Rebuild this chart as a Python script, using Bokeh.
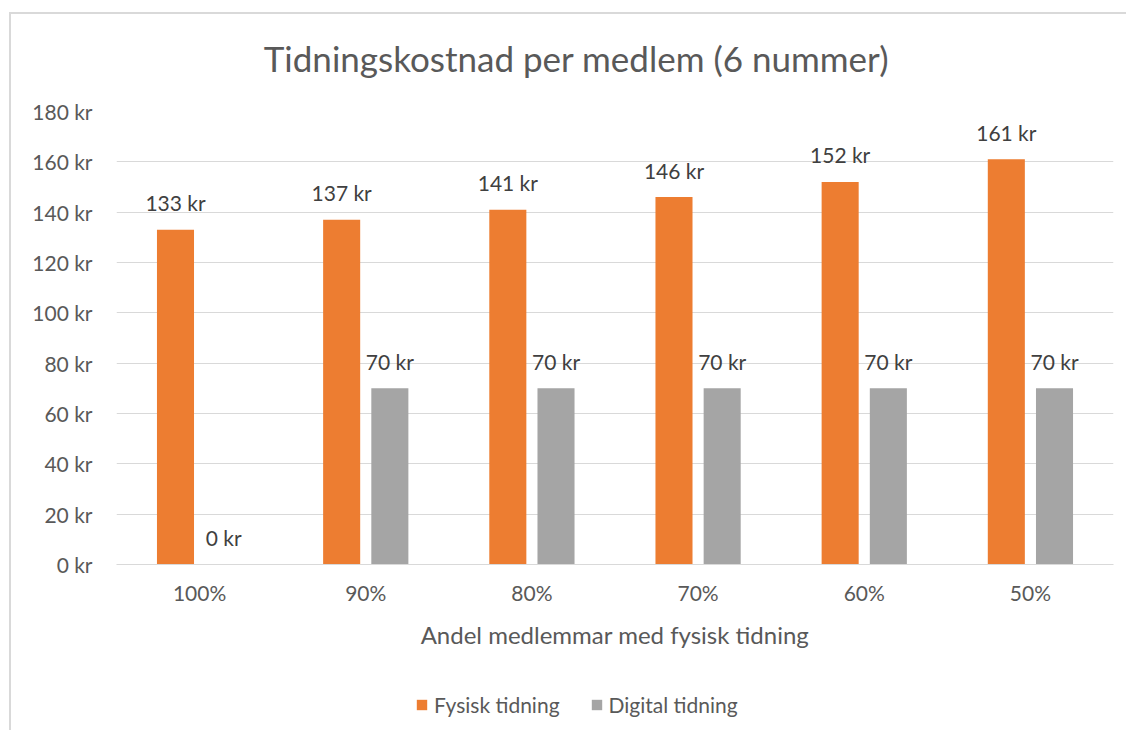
from bokeh.plotting import figure
from bokeh.models import ColumnDataSource, Range1d, FactorRange, LabelSet, Label, Legend, LegendItem, PrintfTickFormatter
from bokeh.layouts import column
from bokeh.transform import dodge
from bokeh.core.properties import value
from bokeh.embed import file_html
from bokeh.resources import INLINE

categories = ["100%", "90%", "80%", "70%", "60%", "50%"]
fysisk = [133, 137, 141, 146, 152, 161]
digital = [0, 70, 70, 70, 70, 70]
fysisk_labels = [f"{v} kr" for v in fysisk]
digital_labels = [f"{v} kr" for v in digital]
series_names = ["Fysisk tidning", "Digital tidning"]
series_colors = ["#ED7D31", "#A5A5A5"]
title_text = "Tidningskostnad per medlem (6 nummer)"
x_title = "Andel medlemmar med fysisk tidning"

FONT = "Lato"
TXT = "#595959"
W = 1115
ML, MR = 105, 13

src = ColumnDataSource(dict(cat=categories, fys=fysisk, dig=digital,
                            fl=fysisk_labels, dl=digital_labels))
xr = FactorRange(*categories, range_padding=0)

# title strip
t = figure(width=W, height=80, x_range=Range1d(0, W - ML - MR), y_range=Range1d(0, 80),
           output_backend="svg", toolbar_location=None,
           min_border_left=ML, min_border_right=MR, min_border_top=0, min_border_bottom=0)
t.axis.visible = False
t.grid.grid_line_color = None
t.outline_line_color = None
t.add_layout(Label(x=460, y=37, text=title_text, text_align="center", text_baseline="middle",
                   text_font=FONT, text_font_size="35px", text_color=TXT))

# main chart
p = figure(width=W, height=570, x_range=xr, y_range=Range1d(0, 180),
           output_backend="svg", toolbar_location=None,
           min_border_left=ML, min_border_right=MR, min_border_top=17, min_border_bottom=100)
p.outline_line_color = None

p.vbar(x=dodge("cat", -0.145, range=xr), top="fys", width=0.223, source=src,
       fill_color=series_colors[0], line_color=None)
p.vbar(x=dodge("cat", 0.145, range=xr), top="dig", width=0.223, source=src,
       fill_color=series_colors[1], line_color=None)

for col, off, ycol in (("fl", -0.145, "fys"), ("dl", 0.145, "dig")):
    p.add_layout(LabelSet(x=dodge("cat", off, range=xr), y=ycol, text=col, source=src,
                          text_align="center", text_baseline="middle", y_offset=27,
                          text_font=value(FONT), text_font_size="21px", text_color="#404040"))

p.yaxis.ticker = list(range(0, 181, 20))
p.yaxis.formatter = PrintfTickFormatter(format="%d kr")
p.yaxis.axis_line_color = None
p.yaxis.major_tick_line_color = None
p.yaxis.minor_tick_line_color = None
p.yaxis.major_label_standoff = 18
p.yaxis.major_label_text_font = FONT
p.yaxis.major_label_text_font_size = "21px"
p.yaxis.major_label_text_color = TXT

p.xaxis.axis_line_color = "#d9d9d9"
p.xaxis.major_tick_line_color = None
p.xaxis.minor_tick_line_color = None
p.xaxis.major_label_standoff = 9
p.xaxis.major_label_text_font = FONT
p.xaxis.major_label_text_font_size = "21px"
p.xaxis.major_label_text_color = TXT
p.xaxis.axis_label = x_title
p.xaxis.axis_label_text_font = FONT
p.xaxis.axis_label_text_font_size = "24px"
p.xaxis.axis_label_text_font_style = "normal"
p.xaxis.axis_label_text_color = TXT
p.xaxis.axis_label_standoff = 12

p.xgrid.grid_line_color = None
p.ygrid.grid_line_color = "#d9d9d9"
p.ygrid.grid_line_width = 1

# legend strip (zero-height bars out of view; only their legend swatches show)
q = figure(width=W, height=66, x_range=xr, y_range=Range1d(1000, 1001),
           output_backend="svg", toolbar_location=None,
           min_border_left=ML, min_border_right=MR, min_border_top=0, min_border_bottom=0)
q.axis.visible = False
q.grid.grid_line_color = None
q.outline_line_color = None
lr = [q.vbar(x="cat", top=key, bottom=key, width=0.1, source=src, fill_color=c, line_color=None)
      for key, c in zip(["fys", "dig"], series_colors)]
legend = Legend(items=[LegendItem(label=n, renderers=[r]) for n, r in zip(series_names, lr)],
                orientation="horizontal", location=(299, 13),
                label_text_font=FONT, label_text_font_size="21px", label_text_color=TXT,
                glyph_width=13, glyph_height=13, label_standoff=6, spacing=30,
                border_line_color=None, background_fill_alpha=0, margin=0, padding=0)
q.add_layout(legend, "center")

layout = column(t, p, q, spacing=0)
layout.margin = (12, 0, 0, 9)
layout.styles = {"border-top": "2px solid #d9d9d9", "border-left": "2px solid #d9d9d9"}

open("out.html", "w").write(file_html(layout, INLINE))
